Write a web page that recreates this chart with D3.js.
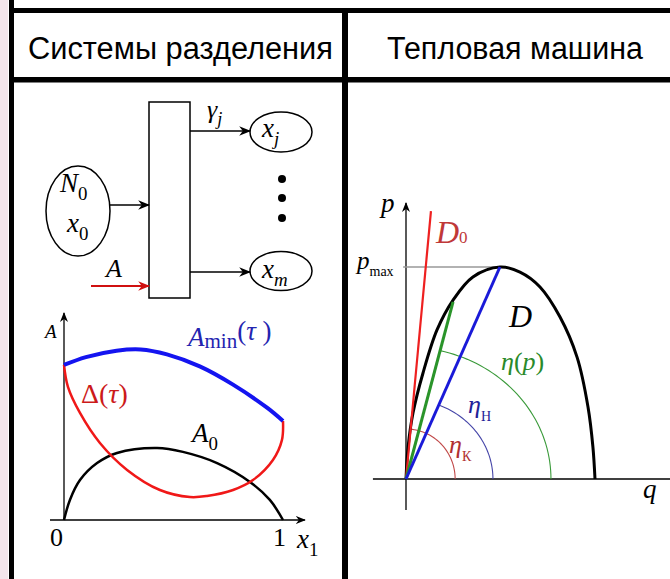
<!DOCTYPE html>
<html>
<head>
<meta charset="utf-8">
<script src="https://cdn.jsdelivr.net/npm/d3@7"></script>
<style>
  body { margin: 0; background: #fff; }
  svg { display: block; }
</style>
</head>
<body>
<svg width="670" height="579"></svg>
<script>
// table headers
const headers = ['Системы разделения', 'Тепловая машина'];

// left plot: A(x1)
const aMinX = [0, 0.1, 0.24, 0.35, 0.47, 0.62, 0.77, 0.93, 1];
const aMinY = [0.749, 0.787, 0.818, 0.824, 0.8, 0.742, 0.655, 0.54, 0.478];
const deltaX = [0, 0.018, 0.073, 0.164, 0.288, 0.438, 0.575, 0.653, 0.772, 0.863, 0.954, 0.995, 1];
const deltaY = [0.749, 0.643, 0.517, 0.372, 0.242, 0.145, 0.111, 0.116, 0.145, 0.193, 0.29, 0.386, 0.478];
const a0X = [0, 0.027, 0.073, 0.151, 0.242, 0.425, 0.543, 0.699, 0.849, 0.94, 1];
const a0Y = [0, 0.097, 0.193, 0.275, 0.324, 0.348, 0.329, 0.275, 0.184, 0.097, 0];

// right plot: p(q)
const dQ = [0, 0.011, 0.037, 0.09, 0.164, 0.249, 0.354, 0.497, 0.603, 0.709, 0.815, 0.905, 0.963, 0.989, 1];
const dP = [0, 0.151, 0.311, 0.5, 0.703, 0.844, 0.953, 1, 0.976, 0.906, 0.764, 0.575, 0.34, 0.151, 0];
const rayNames = ['D0', 'eta', 'etaH'];
const rayQ = [0.132, 0.249, 0.497];
const rayP = [1.264, 0.835, 1];
const arcNames = ['etaK', 'etaH', 'eta'];
const arcRQ = [0.26, 0.46, 0.767];
const arcRP = [0.236, 0.377, 0.623];

const svg = d3.select('svg');
const serif = '"Liberation Serif", "Times New Roman", serif';
const sans = '"Liberation Sans", Arial, sans-serif';

// markers
const defs = svg.append('defs');
const addMarker = (id, color, size) => defs.append('marker')
  .attr('id', id)
  .attr('viewBox', '0 0 10 10')
  .attr('refX', 9).attr('refY', 5)
  .attr('markerWidth', size).attr('markerHeight', size)
  .attr('markerUnits', 'userSpaceOnUse')
  .attr('orient', 'auto')
  .append('path')
  .attr('d', 'M0,1L10,5L0,9L3,5Z')
  .attr('fill', color);
addMarker('arrow-black', '#000', 12);
addMarker('arrow-red', '#d01010', 12);
addMarker('axis', '#000', 10);

// table frame
svg.append('rect').attr('x', 0).attr('y', 0).attr('width', 8).attr('height', 579).attr('fill', '#f3e5eb');
const frame = svg.append('g').attr('fill', '#000');
frame.append('rect').attr('x', 9).attr('y', 0).attr('width', 5).attr('height', 579);
frame.append('rect').attr('x', 9).attr('y', 8).attr('width', 661).attr('height', 5);
frame.append('rect').attr('x', 9).attr('y', 77).attr('width', 661).attr('height', 5.5);
frame.append('rect').attr('x', 342).attr('y', 8).attr('width', 6).attr('height', 571);

svg.selectAll('text.header')
  .data(headers)
  .join('text')
  .attr('class', 'header')
  .attr('x', (d, i) => i === 0 ? 28 : 387)
  .attr('y', 59)
  .attr('textLength', (d, i) => i === 0 ? 305 : 256)
  .attr('lengthAdjust', 'spacingAndGlyphs')
  .attr('font-family', sans)
  .attr('font-size', 31)
  .text(d => d);

// helper for math labels: parts = [text, style]
function label(x, y, parts, color, size) {
  const t = svg.append('text')
    .attr('x', x).attr('y', y)
    .attr('fill', color || '#000')
    .attr('font-family', serif)
    .attr('font-size', size);
  let sub = false;
  parts.forEach(([txt, kind]) => {
    const s = t.append('tspan').text(txt);
    if (kind === 'i') s.attr('font-style', 'italic');
    if (kind === 'sub' || kind === 'isub') {
      s.attr('font-size', size * 0.7).attr('dy', sub ? 0 : size * 0.28);
      if (kind === 'isub') s.attr('font-style', 'italic');
      sub = true;
    } else if (sub) {
      s.attr('dy', -size * 0.28);
      sub = false;
    }
  });
  return t;
}

// ---- block diagram ----
const diag = svg.append('g').attr('stroke', '#000').attr('fill', 'none').attr('stroke-width', 1.5);
diag.append('rect').attr('x', 149).attr('y', 102).attr('width', 41).attr('height', 196).attr('fill', '#fff');
diag.append('ellipse').attr('cx', 78).attr('cy', 211).attr('rx', 32).attr('ry', 45);
diag.append('ellipse').attr('cx', 281).attr('cy', 132).attr('rx', 31).attr('ry', 20);
diag.append('ellipse').attr('cx', 281).attr('cy', 271).attr('rx', 31).attr('ry', 19.5);
diag.append('line').attr('x1', 110).attr('y1', 205).attr('x2', 149).attr('y2', 205).attr('marker-end', 'url(#arrow-black)');
diag.append('line').attr('x1', 190).attr('y1', 131).attr('x2', 250).attr('y2', 131).attr('marker-end', 'url(#arrow-black)');
diag.append('line').attr('x1', 190).attr('y1', 272).attr('x2', 250).attr('y2', 272).attr('marker-end', 'url(#arrow-black)');
diag.append('line').attr('x1', 91).attr('y1', 286).attr('x2', 149).attr('y2', 286)
  .attr('stroke', '#d01010').attr('stroke-width', 2).attr('marker-end', 'url(#arrow-red)');
svg.append('g').selectAll('circle').data([179, 198, 218]).join('circle')
  .attr('cx', 282).attr('cy', d => d).attr('r', 4).attr('fill', '#000');

label(60, 192, [['N', 'i'], ['0', 'sub']], '#000', 27);
label(67, 232, [['x', 'i'], ['0', 'sub']], '#000', 27);
label(106, 277, [['A', 'i']], '#000', 26);
label(207, 118, [['γ', 'i'], ['j', 'isub']], '#000', 26);
label(262, 137, [['x', 'i'], ['j', 'isub']], '#000', 27);
label(262, 278, [['x', 'i'], ['m', 'isub']], '#000', 27);

// ---- left plot ----
const x = d3.scaleLinear([0, 1], [64, 283]);
const y = d3.scaleLinear([0, 1], [520, 313]);
const lp = svg.append('g');
lp.append('line').attr('x1', x(-0.064)).attr('y1', y(0)).attr('x2', x(1.1)).attr('y2', y(0))
  .attr('stroke', '#000').attr('stroke-width', 1.3).attr('marker-end', 'url(#axis)');
lp.append('line').attr('x1', x(0)).attr('y1', y(0)).attr('x2', x(0)).attr('y2', y(1))
  .attr('stroke', '#000').attr('stroke-width', 1.3).attr('marker-end', 'url(#axis)');

const lineL = d3.line().x(d => x(d[0])).y(d => y(d[1])).curve(d3.curveCatmullRom);
lp.append('path').attr('d', lineL(d3.zip(a0X, a0Y)))
  .attr('fill', 'none').attr('stroke', '#000').attr('stroke-width', 2.5);
lp.append('path').attr('d', lineL(d3.zip(deltaX, deltaY)))
  .attr('fill', 'none').attr('stroke', '#f01818').attr('stroke-width', 2.5);
lp.append('path').attr('d', lineL(d3.zip(aMinX, aMinY)))
  .attr('fill', 'none').attr('stroke', '#1414f0').attr('stroke-width', 4);

label(45, 338, [['A', 'i']], '#000', 19);
label(188, 346, [['A', 'i'], ['min', 'sub'], ['(', ''], ['τ', 'i'], [' )', '']], '#2424b0', 27)
  .selectAll('tspan').filter((d, i) => i === 1).attr('font-size', 21).attr('dy', 2);
label(81, 403, [['Δ(', ''], ['τ', 'i'], [')', '']], '#cc1a1a', 28);
label(192, 442, [['A', 'i'], ['0', 'sub']], '#000', 27);
svg.append('g').attr('font-family', serif).attr('font-size', 26)
  .selectAll('text').data([0, 1]).join('text')
  .attr('x', d => x(d)).attr('y', 546)
  .attr('text-anchor', 'end')
  .attr('dx', d => d === 0 ? -1 : 3)
  .text(d => d);
label(297, 548, [['x', 'i'], ['1', 'sub']], '#000', 27);

// ---- right plot ----
const q = d3.scaleLinear([0, 1], [406, 595]);
const p = d3.scaleLinear([0, 1], [479, 267]);
const rp = svg.append('g');
rp.append('line').attr('x1', q(-0.175)).attr('y1', p(0)).attr('x2', q(1.571)).attr('y2', p(0))
  .attr('stroke', '#000').attr('stroke-width', 1.3).attr('marker-end', 'url(#axis)');
rp.append('line').attr('x1', q(0)).attr('y1', p(-0.146)).attr('x2', q(0)).attr('y2', p(1.302))
  .attr('stroke', '#000').attr('stroke-width', 1.3).attr('marker-end', 'url(#axis)');
rp.append('line').attr('x1', q(-0.015)).attr('y1', p(1)).attr('x2', q(0.497)).attr('y2', p(1))
  .attr('stroke', '#999').attr('stroke-width', 1.3);

const arcColors = ['#c04848', '#4646a8', '#3a9a3a'];
const rayColors = ['#ee2020', '#2a942a', '#1a1ad8'];

// arcs: from q axis up to the matching ray
const rayFor = { etaK: 0, etaH: 2, eta: 1 };
arcNames.forEach((name, i) => {
  const r = rayFor[name];
  const dx = q(rayQ[r]) - q(0), dy = p(0) - p(rayP[r]);
  const rx = q(arcRQ[i]) - q(0), ry = p(0) - p(arcRP[i]);
  const tEnd = Math.atan2(dy * rx, dx * ry);
  const pts = d3.range(0, 41).map(k => {
    const t = tEnd * k / 40;
    return [q(arcRQ[i] * Math.cos(t)), p(arcRP[i] * Math.sin(t))];
  });
  rp.append('path').attr('d', d3.line()(pts))
    .attr('fill', 'none').attr('stroke', arcColors[i]).attr('stroke-width', 1.1);
});

rp.append('path').attr('d', d3.line().x(d => q(d[0])).y(d => p(d[1])).curve(d3.curveCatmullRom)(d3.zip(dQ, dP)))
  .attr('fill', 'none').attr('stroke', '#000').attr('stroke-width', 3);

rp.selectAll('line.ray').data(rayNames).join('line')
  .attr('class', 'ray')
  .attr('x1', q(0)).attr('y1', p(0))
  .attr('x2', (d, i) => q(rayQ[i])).attr('y2', (d, i) => p(rayP[i]))
  .attr('stroke', (d, i) => rayColors[i])
  .attr('stroke-width', (d, i) => i === 0 ? 2.2 : 3);

label(381, 212, [['p', 'i']], '#000', 27);
label(643, 498, [['q', 'i']], '#000', 27);
label(357, 269, [['p', 'i'], ['max', 'sub']], '#000', 25)
  .selectAll('tspan').filter((d, i) => i === 1).attr('font-size', 14).attr('dy', 7);
label(436, 243, [['D', 'i'], ['0', 'sub']], '#c03838', 32)
  .selectAll('tspan').filter((d, i) => i === 1).attr('font-size', 17).attr('dy', 0);
label(509, 327, [['D', 'i']], '#000', 32);
label(501, 370, [['η', 'i'], ['(', ''], ['p', 'i'], [')', '']], '#2a8a2a', 26);
label(468, 413, [['η', 'i'], ['Н', 'sub']], '#222298', 26)
  .selectAll('tspan').filter((d, i) => i === 1).attr('font-size', 14).attr('dy', 8);
label(449, 453, [['η', 'i'], ['К', 'sub']], '#b03030', 26)
  .selectAll('tspan').filter((d, i) => i === 1).attr('font-size', 14).attr('dy', 8);
</script>
</body>
</html>
